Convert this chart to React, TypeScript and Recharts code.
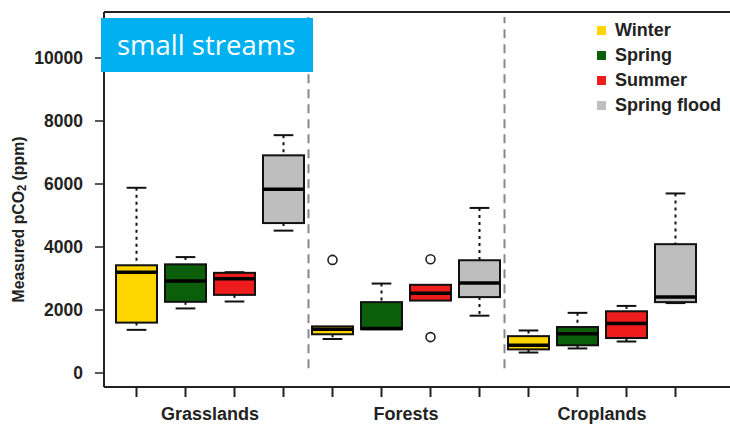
import React from 'react';
import { ComposedChart, Bar, XAxis, YAxis, ReferenceLine } from 'recharts';

const groups = ['Grasslands', 'Forests', 'Croplands'];
const seasons = ['Winter', 'Spring', 'Summer', 'Spring flood'];
const seasonColors = ['#FFD500', '#0B5F0B', '#EE1C1C', '#BEBEBE'];

// one entry per box: groups x seasons (Winter, Spring, Summer, Spring flood)
const lowWhisker = [1370, 2050, 2270, 4520, 1080, 1390, 2300, 1820, 650, 780, 1000, 2220];
const q1 = [1600, 2260, 2480, 4760, 1230, 1390, 2300, 2410, 750, 880, 1110, 2250];
const median = [3200, 2920, 2990, 5830, 1390, 1410, 2530, 2860, 880, 1250, 1570, 2410];
const q3 = [3420, 3450, 3180, 6910, 1480, 2250, 2800, 3580, 1170, 1460, 1960, 4090];
const highWhisker = [5880, 3680, 3200, 7550, 1480, 2840, 2800, 5240, 1350, 1910, 2130, 5700];
const outliers: number[][] = [[], [], [], [], [3590], [], [3610, 1140], [], [], [], [], []];

const yTicks = [0, 2000, 4000, 6000, 8000, 10000];
const yDomain = [-444, 11460];
const separators = [4.5, 8.5];

const data = q1.map((lo, i) => ({
  key: `b${i}`,
  pos: i + 1,
  group: groups[Math.floor(i / 4)],
  season: seasons[i % 4],
  color: seasonColors[i % 4],
  box: [lo, q3[i]],
  min: lowWhisker[i],
  med: median[i],
  max: highWhisker[i],
  out: outliers[i],
}));

const font = '"Liberation Sans", Arial, sans-serif';

const BoxShape = (props: any) => {
  const { x, y, width, height, payload } = props;
  const top = Math.min(y, y + height);
  const h = Math.abs(height);
  const [lo, hi] = payload.box;
  const k = h / (hi - lo);
  const toY = (v: number) => top + (hi - v) * k;
  const cx = x + width / 2;
  const cap = width * 0.24;
  return (
    <g>
      {payload.max > hi && (
        <>
          <line x1={cx} x2={cx} y1={toY(payload.max)} y2={top} stroke="#111" strokeWidth={2} strokeDasharray="3 4" />
          <line x1={cx - cap} x2={cx + cap} y1={toY(payload.max)} y2={toY(payload.max)} stroke="#111" strokeWidth={2} />
        </>
      )}
      {payload.min < lo && (
        <>
          <line x1={cx} x2={cx} y1={top + h} y2={toY(payload.min)} stroke="#111" strokeWidth={2} strokeDasharray="3 4" />
          <line x1={cx - cap} x2={cx + cap} y1={toY(payload.min)} y2={toY(payload.min)} stroke="#111" strokeWidth={2} />
        </>
      )}
      <rect x={x} y={top} width={width} height={h} fill={payload.color} stroke="#111" strokeWidth={2} />
      <line x1={x} x2={x + width} y1={toY(payload.med)} y2={toY(payload.med)} stroke="#000" strokeWidth={3.5} />
      {payload.out.map((v: number, j: number) => (
        <circle key={j} cx={cx} cy={toY(v)} r={4.5} fill="#fff" stroke="#222" strokeWidth={1.6} />
      ))}
    </g>
  );
};

const YTitle = ({ viewBox }: any) => {
  const cx = viewBox.x + 18;
  const cy = viewBox.y + viewBox.height / 2 + 20;
  return (
    <text x={cx} y={cy} transform={`rotate(-90 ${cx} ${cy})`} textAnchor="middle" dominantBaseline="central"
      fontFamily={font} fontWeight="bold" fontSize={17} fill="#222" textLength={166} lengthAdjust="spacingAndGlyphs">
      Measured pCO<tspan fontSize={12} dy={4}>2</tspan><tspan dy={-4}> (ppm)</tspan>
    </text>
  );
};

export default function App() {
  return (
    <div style={{ position: 'absolute', left: 0, top: 0, width: 730, height: 424, background: '#fff' }}>
      <ComposedChart width={730} height={424} data={data} margin={{ top: 12, right: 0, bottom: 0, left: 0 }}>
        <XAxis dataKey="key" xAxisId="box" height={12} padding={{ left: 8, right: 30 }} tick={() => <g />}
          tickSize={10} axisLine={{ stroke: '#222', strokeWidth: 2 }} tickLine={{ stroke: '#222', strokeWidth: 2 }} />
        <XAxis dataKey="group" xAxisId="group" allowDuplicatedCategory={false} height={25} padding={{ left: 8, right: 30 }}
          axisLine={false} tickLine={false} tickSize={0} tickMargin={8}
          tick={{ fontFamily: font, fontWeight: 'bold', fontSize: 18, fill: '#222' }} />
        <XAxis xAxisId="pos" dataKey="pos" type="number" hide domain={[0.3265, 13.102]} allowDataOverflow />
        <YAxis width={104} domain={yDomain} ticks={yTicks} allowDataOverflow interval={0}
          tickSize={9} tickMargin={12} axisLine={{ stroke: '#222', strokeWidth: 2 }} tickLine={{ stroke: '#222', strokeWidth: 1.5 }}
          tick={{ fontFamily: font, fontWeight: 'bold', fontSize: 17.5, fill: '#222' }}
          label={{ content: YTitle }} />
        <ReferenceLine xAxisId="box" y={yDomain[1]} stroke="#222" strokeWidth={2} />
        {separators.map((s) => (
          <ReferenceLine key={s} xAxisId="pos" segment={[{ x: s, y: 150 }, { x: s, y: 11300 }]}
            stroke="#888" strokeWidth={2} strokeDasharray="9 6" />
        ))}
        <Bar xAxisId="box" dataKey="box" barSize={41} isAnimationActive={false} shape={BoxShape} />
      </ComposedChart>
      <div style={{ position: 'absolute', left: 591, top: 18, background: '#fff', padding: '0 6px',
        fontFamily: font, fontWeight: 'bold', fontSize: 18, color: '#222' }}>
        {seasons.map((s, i) => (
          <div key={s} style={{ display: 'flex', alignItems: 'center', height: 25 }}>
            <span style={{ width: 9, height: 9, background: seasonColors[i], marginRight: 9, display: 'inline-block' }} />
            {s}
          </div>
        ))}
      </div>
      <div style={{ position: 'absolute', left: 101, top: 18, width: 212, height: 54, background: '#00B0F0', color: '#fff',
        fontFamily: '"Open Sans", "Noto Sans", sans-serif', fontSize: 27.5, lineHeight: '54px', paddingLeft: 16, boxSizing: 'border-box' }}>
        small streams
      </div>
    </div>
  );
}
